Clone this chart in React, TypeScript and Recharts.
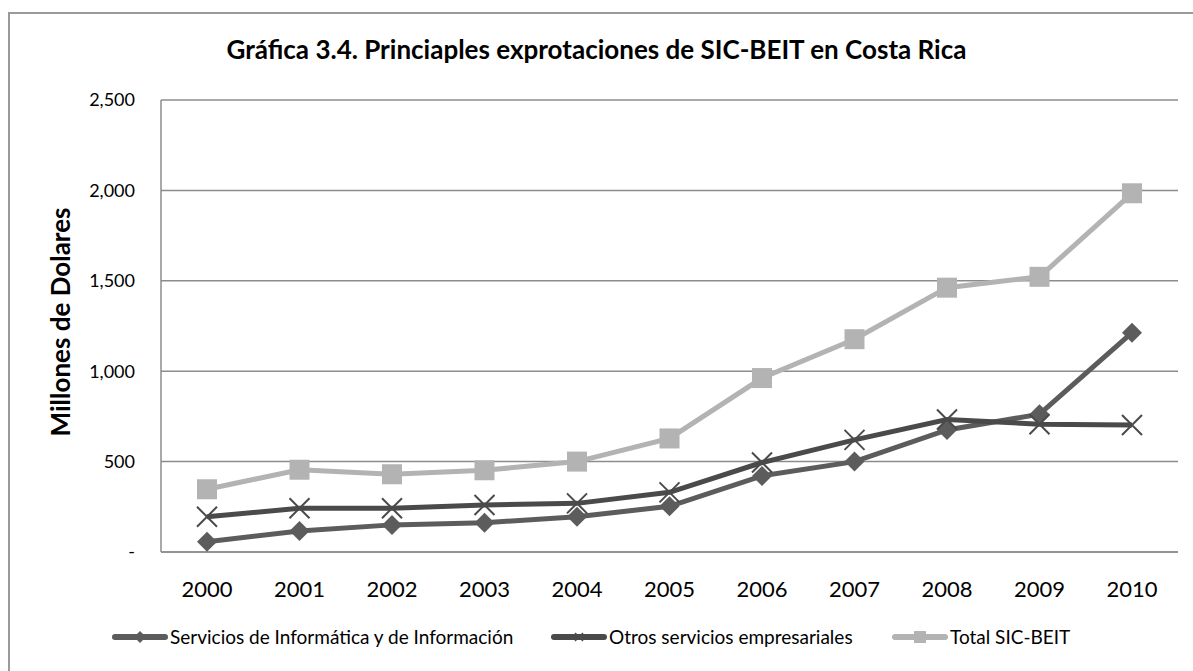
import { LineChart, Line, XAxis, YAxis, CartesianGrid } from "recharts"

const years = ["2000", "2001", "2002", "2003", "2004", "2005", "2006", "2007", "2008", "2009", "2010"]
const informatica = [57, 116, 150, 162, 195, 253, 421, 500, 675, 762, 1213]
const otros = [195, 242, 242, 260, 269, 330, 495, 620, 733, 707, 702]
const total = [347, 455, 430, 452, 500, 628, 962, 1177, 1462, 1522, 1984]
const yTicks = [0, 500, 1000, 1500, 2000, 2500]

const seriesNames = ["Servicios de Informática y de Información", "Otros servicios empresariales", "Total SIC-BEIT"]
const seriesColors = ["#5c5c5c", "#4a4a4a", "#b3b3b3"]

const data = years.map((y, i) => ({
    year: y,
    informatica: informatica[i],
    otros: otros[i],
    total: total[i],
}))

const FONT = "Lato, 'Open Sans', sans-serif"

function Diamond(props: any) {
    const { cx, cy, fill } = props
    if (cx == null || cy == null) return <g />
    const r = 10
    return <path d={`M${cx},${cy - r} L${cx + r},${cy} L${cx},${cy + r} L${cx - r},${cy} Z`} fill={fill} />
}

function Square(props: any) {
    const { cx, cy, fill } = props
    if (cx == null || cy == null) return <g />
    const s = 10
    return <rect x={cx - s} y={cy - s} width={s * 2} height={s * 2} fill={fill} />
}

function Cross(props: any) {
    const { cx, cy, stroke } = props
    if (cx == null || cy == null) return <g />
    const s = 10
    return (
        <path d={`M${cx - s},${cy - s} L${cx + s},${cy + s} M${cx - s},${cy + s} L${cx + s},${cy - s}`}
            stroke={stroke} strokeWidth={2} fill="none" />
    )
}

function LegendIcon({ index }: { index: number }) {
    const c = seriesColors[index]
    return (
        <svg width={56} height={16} style={{ display: "block" }}>
            <line x1={3} y1={8} x2={53} y2={8} stroke={c} strokeWidth={6} strokeLinecap="round" />
            {index === 0 && <path d="M28,2 L34,8 L28,14 L22,8 Z" fill={c} />}
            {index === 1 && <path d="M24,4 L32,12 M24,12 L32,4" stroke={c} strokeWidth={1.5} />}
            {index === 2 && <rect x={22} y={2} width={12} height={12} fill={c} />}
        </svg>
    )
}

const legendLefts = [112, 551, 892]

export default function App() {
    const fmt = (v: number) => (v === 0 ? "-" : v.toLocaleString("en-US"))

    return (
        <div style={{ position: "absolute", left: 0, top: 0, width: 1193, height: 671, background: "#fff", overflow: "hidden", fontFamily: FONT }}>
            <div style={{ position: "absolute", left: 8, top: 12, width: 1200, height: 700, border: "2px solid #9a9a9a", boxSizing: "border-box" }} />

            <div style={{ position: "absolute", left: 0, top: 33, width: 1193, textAlign: "center", fontSize: 26, fontWeight: 700, color: "#000" }}>
                Gráfica 3.4. Princiaples exprotaciones de SIC-BEIT en Costa Rica
            </div>

            <div style={{ position: "absolute", left: 60, top: 322, width: 0, height: 0 }}>
                <div style={{ position: "absolute", transform: "translate(-50%, -50%) rotate(-90deg)", whiteSpace: "nowrap", fontSize: 26, fontWeight: 700, color: "#000" }}>
                    Millones de Dolares
                </div>
            </div>

            <div style={{ position: "absolute", left: 0, top: 0 }}>
                <LineChart width={1193} height={671} data={data} margin={{ top: 100, right: 15, left: 0, bottom: 0 }}>
                    <CartesianGrid vertical={false} stroke="#8c8c8c" strokeWidth={1.5} />
                    <XAxis dataKey="year" height={119} tickSize={0} tickMargin={29} padding={{ left: 46, right: 46 }}
                        axisLine={{ stroke: "#8c8c8c", strokeWidth: 1.5 }}
                        tick={{ fontSize: 22, fill: "#000", fontFamily: FONT }} />
                    <YAxis width={161} domain={[0, 2500]} ticks={yTicks} tickFormatter={fmt} tickSize={0} tickMargin={26}
                        axisLine={{ stroke: "#8c8c8c", strokeWidth: 1.5 }}
                        tick={{ fontSize: 18, fill: "#000", fontFamily: FONT }} />
                    <Line dataKey="informatica" name={seriesNames[0]} stroke={seriesColors[0]} strokeWidth={5}
                        dot={<Diamond fill={seriesColors[0]} />} isAnimationActive={false} />
                    <Line dataKey="otros" name={seriesNames[1]} stroke={seriesColors[1]} strokeWidth={5}
                        dot={<Cross stroke={seriesColors[1]} />} isAnimationActive={false} />
                    <Line dataKey="total" name={seriesNames[2]} stroke={seriesColors[2]} strokeWidth={5}
                        dot={<Square fill={seriesColors[2]} />} isAnimationActive={false} />
                </LineChart>
            </div>

            {seriesNames.map((name, i) => (
                <div key={name} style={{ position: "absolute", left: legendLefts[i], top: 625, display: "flex", alignItems: "center", fontSize: 19, color: "#000", whiteSpace: "nowrap" }}>
                    <LegendIcon index={i} />
                    <span style={{ marginLeft: 2 }}>{name}</span>
                </div>
            ))}
        </div>
    )
}
